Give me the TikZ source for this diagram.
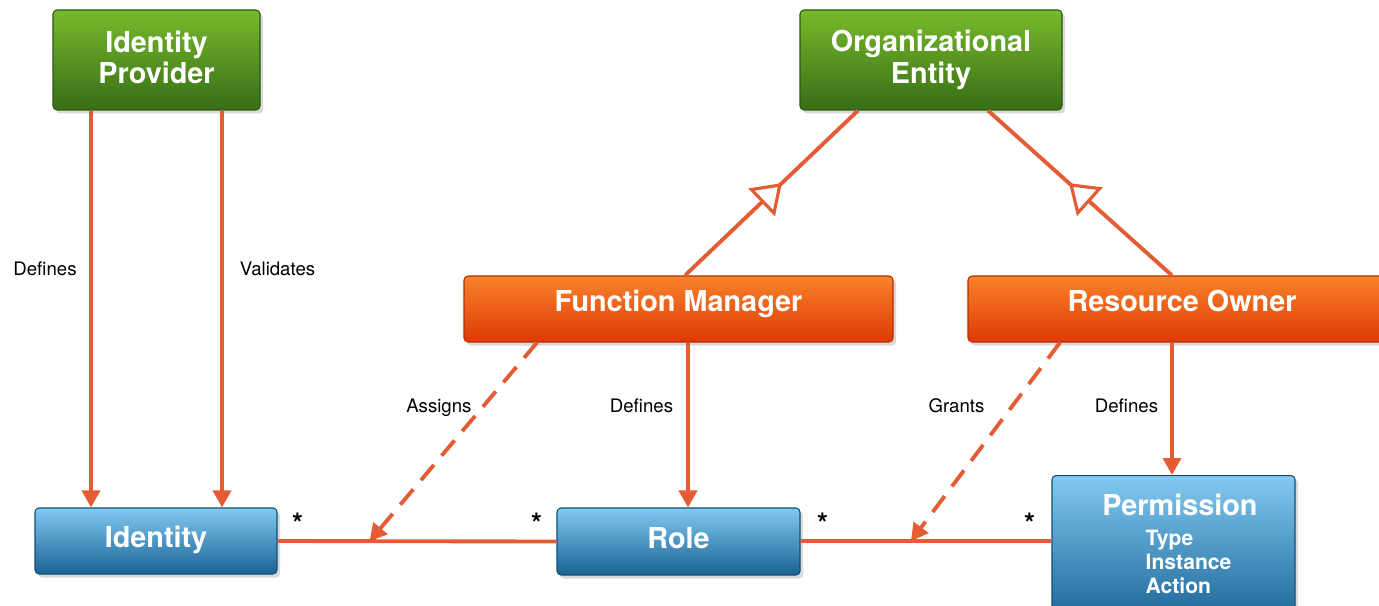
\documentclass[tikz,border=0pt]{standalone}
\usepackage{fontspec}
\setmainfont{TeX Gyre Heros}
\usetikzlibrary{arrows.meta,shadows,decorations.markings}
\definecolor{linered}{RGB}{228,92,52}
\definecolor{greentop}{RGB}{120,186,44}
\definecolor{greenbot}{RGB}{54,110,22}
\definecolor{orangetop}{RGB}{248,130,42}
\definecolor{orangebot}{RGB}{222,58,6}
\definecolor{bluetop}{RGB}{130,202,242}
\definecolor{bluebot}{RGB}{24,98,148}
\tikzset{
  boxtext/.style={inner sep=0pt, text=white, font=\fontsize{8.2}{8.9}\selectfont\bfseries, align=center},
  box/.style={boxtext, rectangle, rounded corners=0.4mm, line width=0.3pt,
    drop shadow={opacity=0.3, shadow xshift=0.3mm, shadow yshift=-0.35mm}},
  oneline/.style={text height=5.9pt, text depth=#1},
  oneline/.default=2pt,
  greenbox/.style={box, draw=greenbot!80!black, top color=greentop, bottom color=greenbot},
  orangebox/.style={box, draw=orangebot!80!black, top color=orangetop, bottom color=orangebot},
  bluebox/.style={box, draw=bluebot!80!black, top color=bluetop, bottom color=bluebot},
  conn/.style={draw=linered, line width=1.1pt},
  arr/.style={conn, -{Triangle[length=1.7mm, width=1.8mm]}},
  dasharr/.style={arr, dash pattern=on 2mm off 1.2mm},
  inherit/.style={conn, postaction={decorate}, decoration={markings,
    mark=at position #1 with {\arrow[line width=0.9pt]{Triangle[fill=white, length=2.8mm, width=3.8mm]}}}},
  lbl/.style={inner sep=0pt, font=\fontsize{5.3}{6}\selectfont},
  mult/.style={inner sep=0pt, font=\fontsize{8}{9}\selectfont\bfseries}
}
\begin{document}
\begin{tikzpicture}[x=0.1mm,y=-0.1mm]
\useasboundingbox (0,0) rectangle (1379,606);
% boxes
\node [greenbox, minimum width=20.7mm, minimum height=10mm] (idp) at (156.5,60) {Identity\\Provider\rule[-1.5pt]{0pt}{0pt}};
\node [greenbox, minimum width=26.2mm, minimum height=10mm] (org) at (931,60) {Organizational\\Entity};
\node [orangebox, oneline=4.5pt, minimum width=42.9mm, minimum height=6.6mm] (fm) at (678.5,309) {Function Manager};
\node [orangebox, oneline=4.5pt, minimum width=42.8mm, minimum height=6.6mm] (ro) at (1182,309) {Resource Owner};
\node [bluebox, oneline, minimum width=24.2mm, minimum height=6.6mm] (id) at (156,541) {Identity};
\node [bluebox, oneline, minimum width=24.3mm, minimum height=6.7mm] (role) at (678.5,541.5) {Role};
\node [bluebox, minimum width=24.3mm, minimum height=15mm, anchor=north] (perm) at (1173.5,475) {};
\node [boxtext] (permtitle) at (1180,505) {Permission};
\node [boxtext, anchor=north west, font=\fontsize{6}{6.75}\selectfont\bfseries, align=left] (permattr) at (1145,529.5) {Type\\Instance\\Action};
% identity provider
\draw [arr] ([xshift=-6.55mm]idp.south) -- ([xshift=-6.5mm]id.north)
  node [lbl, pos=0.4, left=1.25mm] {Defines};
\draw [arr] ([xshift=6.55mm]idp.south) -- ([xshift=6.6mm]id.north)
  node [lbl, pos=0.4, right=1.6mm] {Validates};
% generalisation
\draw [inherit=0.56] ([xshift=0.65mm]fm.north) -- ([xshift=-7.3mm]org.south);
\draw [inherit=0.56] ([xshift=-1mm]ro.north) -- ([xshift=5.7mm]org.south);
% associations
\draw [conn] (id.east) -- (role.west)
  coordinate [pos=0.33] (assignpt)
  node [mult, at start, xshift=2mm, yshift=1.8mm] {*}
  node [mult, at end, xshift=-2mm, yshift=1.8mm] {*};
\draw [conn] (role.east |- id.east) -- (perm.west |- id.east)
  coordinate [pos=0.44] (grantpt)
  node [mult, at start, xshift=2.2mm, yshift=1.8mm] {*}
  node [mult, at end, xshift=-2.2mm, yshift=1.8mm] {*};
\draw [dasharr] ([xshift=-14.15mm]fm.south) -- (assignpt)
  node [lbl, pos=0.32, left=1mm, yshift=-0.2mm] {Assigns};
\draw [arr] ([xshift=0.95mm]fm.south) -- ([xshift=0.95mm]role.north)
  node [lbl, pos=0.386, left=1.3mm] {Defines};
\draw [dasharr] ([xshift=-12.2mm]ro.south) -- (grantpt)
  node [lbl, pos=0.32, left=2.6mm] {Grants};
\draw [arr] ([xshift=-1mm]ro.south) -- ([xshift=-0.15mm]perm.north)
  node [lbl, pos=0.48, left=1.2mm] {Defines};
\end{tikzpicture}
\end{document}
